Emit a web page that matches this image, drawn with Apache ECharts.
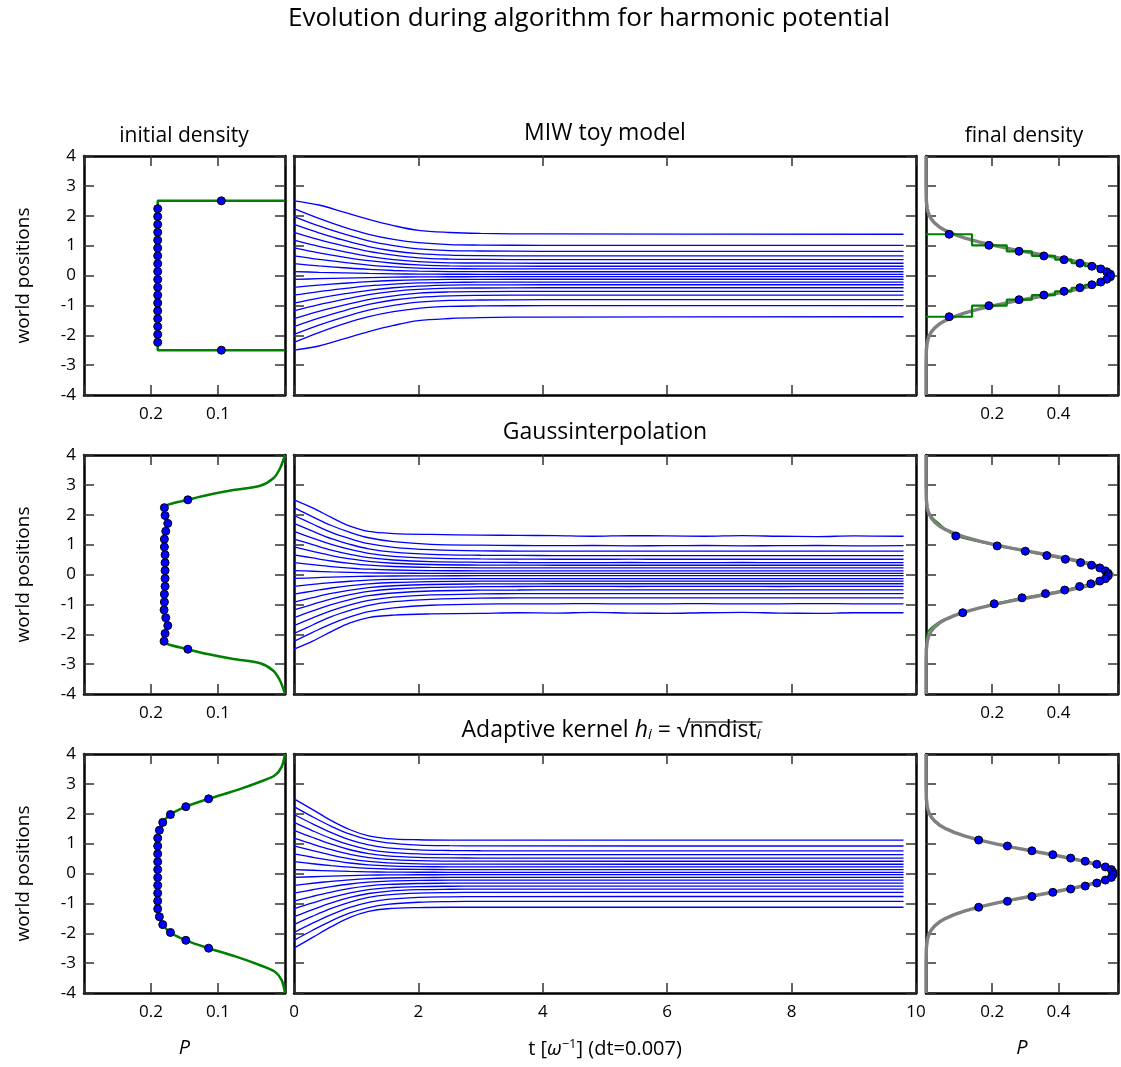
<!DOCTYPE html>
<html><head><meta charset="utf-8">
<script src="https://cdn.jsdelivr.net/npm/echarts@6/dist/echarts.min.js"></script>
<style>html,body{margin:0;padding:0;background:#fff}#c{width:1121px;height:1067px}</style>
</head><body><div id="c"></div>
<script>
const FONT = '"Open Sans", "DejaVu Sans", sans-serif';

// ---------- data ----------
const initialPositions = [2.5, 2.237, 1.974, 1.711, 1.447, 1.184, 0.921, 0.658, 0.395, 0.132, -0.132, -0.395, -0.658, -0.921, -1.184, -1.447, -1.711, -1.974, -2.237, -2.5];

// initial densities at particles (P)
const initialDensityMIW = [0.095, 0.19, 0.19, 0.19, 0.19, 0.19, 0.19, 0.19, 0.19, 0.19, 0.19, 0.19, 0.19, 0.19, 0.19, 0.19, 0.19, 0.19, 0.19, 0.095];
const initialDensityGauss = [0.145, 0.180, 0.179, 0.175, 0.178, 0.180, 0.180, 0.179, 0.179, 0.179, 0.179, 0.179, 0.180, 0.180, 0.1805, 0.178, 0.175, 0.179, 0.1805, 0.145];
const initialDensityAK = [0.114, 0.148, 0.171, 0.1825, 0.1875, 0.19, 0.19, 0.19, 0.19, 0.19, 0.19, 0.19, 0.19, 0.19, 0.19, 0.1875, 0.1825, 0.171, 0.148, 0.114];

// initial density curves, [P, y]
const initialCurveMIW = [[0, 2.5], [0.19, 2.5], [0.19, -2.5], [0, -2.5]];
const initialCurveGauss = [[0, 4.0], [0.0075, 3.55], [0.0174, 3.22], [0.037, 2.97], [0.077, 2.83], [0.112, 2.68], [0.145, 2.5], [0.18, 2.237], [0.179, 1.974], [0.175, 1.711], [0.178, 1.447], [0.18, 1.184], [0.18, 0.921], [0.179, 0.658], [0.179, 0.395], [0.179, 0.132], [0.179, -0.132], [0.179, -0.395], [0.18, -0.658], [0.18, -0.921], [0.1805, -1.184], [0.178, -1.447], [0.175, -1.711], [0.179, -1.974], [0.1805, -2.237], [0.145, -2.5], [0.112, -2.68], [0.077, -2.83], [0.037, -2.97], [0.0174, -3.22], [0.0075, -3.55], [0, -4.0]];
const initialCurveAK = [[0, 4.0], [0.005, 3.57], [0.015, 3.29], [0.037, 3.07], [0.072, 2.79], [0.114, 2.5], [0.148, 2.237], [0.171, 1.974], [0.1825, 1.711], [0.1875, 1.447], [0.19, 1.184], [0.19, 0.921], [0.19, 0.658], [0.19, 0.395], [0.19, 0.132], [0.19, -0.132], [0.19, -0.395], [0.19, -0.658], [0.19, -0.921], [0.19, -1.184], [0.1875, -1.447], [0.1825, -1.711], [0.171, -1.974], [0.148, -2.237], [0.114, -2.5], [0.072, -2.79], [0.037, -3.07], [0.015, -3.29], [0.005, -3.57], [0, -4.0]];

// trajectories
const timesMIW = [0, 0.4, 0.8, 1.2, 1.6, 2.0, 2.5, 3.0, 4.0, 9.8];
const trajectoriesMIW = [
  [2.5, 2.36, 2.12, 1.88, 1.67, 1.51, 1.44, 1.41, 1.39, 1.38],
  [2.237, 1.91, 1.62, 1.38, 1.21, 1.10, 1.035, 1.02, 1.01, 1.01],
  [1.974, 1.66, 1.39, 1.16, 1.0, 0.89, 0.83, 0.82, 0.81, 0.81],
  [1.711, 1.43, 1.18, 0.97, 0.82, 0.73, 0.68, 0.665, 0.655, 0.655],
  [1.447, 1.20, 0.99, 0.805, 0.68, 0.59, 0.55, 0.54, 0.53, 0.53],
  [1.184, 0.975, 0.80, 0.64, 0.53, 0.465, 0.425, 0.418, 0.41, 0.41],
  [0.921, 0.755, 0.615, 0.495, 0.41, 0.355, 0.32, 0.316, 0.31, 0.31],
  [0.658, 0.54, 0.44, 0.35, 0.29, 0.25, 0.229, 0.224, 0.22, 0.22],
  [0.395, 0.32, 0.26, 0.206, 0.168, 0.144, 0.13, 0.128, 0.125, 0.125],
  [0.132, 0.107, 0.086, 0.068, 0.055, 0.046, 0.042, 0.041, 0.04, 0.04],
  [-0.132, -0.107, -0.086, -0.068, -0.055, -0.046, -0.042, -0.041, -0.04, -0.04],
  [-0.395, -0.32, -0.26, -0.206, -0.168, -0.144, -0.13, -0.128, -0.125, -0.125],
  [-0.658, -0.54, -0.44, -0.35, -0.29, -0.25, -0.229, -0.224, -0.22, -0.22],
  [-0.921, -0.755, -0.615, -0.495, -0.41, -0.355, -0.32, -0.316, -0.31, -0.31],
  [-1.184, -0.975, -0.80, -0.64, -0.53, -0.465, -0.425, -0.418, -0.41, -0.41],
  [-1.447, -1.20, -0.99, -0.805, -0.68, -0.59, -0.55, -0.54, -0.53, -0.53],
  [-1.711, -1.43, -1.18, -0.97, -0.82, -0.73, -0.68, -0.665, -0.655, -0.655],
  [-1.974, -1.66, -1.39, -1.16, -1.0, -0.89, -0.83, -0.82, -0.81, -0.81],
  [-2.237, -1.91, -1.62, -1.38, -1.21, -1.10, -1.035, -1.02, -1.01, -1.01],
  [-2.5, -2.36, -2.12, -1.88, -1.67, -1.51, -1.44, -1.41, -1.39, -1.38]
];

const timesGauss = [0, 0.3, 0.6, 0.9, 1.2, 1.6, 2.2, 3.0, 3.6, 4.2, 4.8, 5.4, 6.0, 6.6, 7.2, 7.8, 8.4, 9.0, 9.8];
const trajectoriesGauss = [
  [2.5, 2.23, 1.91, 1.62, 1.44, 1.37, 1.34, 1.32, 1.31, 1.30, 1.28, 1.30, 1.29, 1.28, 1.30, 1.28, 1.27, 1.29, 1.28],
  [2.237, 1.93, 1.64, 1.41, 1.23, 1.10, 1.01, 0.98, 0.97, 0.965, 0.97, 0.96, 0.965, 0.97, 0.96, 0.965, 0.97, 0.96, 0.965],
  [1.974, 1.69, 1.41, 1.20, 1.03, 0.91, 0.83, 0.79, 0.785, 0.78, 0.785, 0.78, 0.78, 0.785, 0.78, 0.78, 0.785, 0.78, 0.78],
  [1.711, 1.45, 1.20, 1.01, 0.86, 0.75, 0.676, 0.644, 0.638, 0.635, 0.633, 0.635, 0.633, 0.633, 0.635, 0.633, 0.633, 0.635, 0.633],
  [1.447, 1.22, 1.01, 0.84, 0.71, 0.61, 0.547, 0.52, 0.514, 0.51, 0.51, 0.512, 0.51, 0.51, 0.512, 0.51, 0.51, 0.51, 0.51],
  [1.184, 1.0, 0.816, 0.674, 0.565, 0.486, 0.43, 0.408, 0.402, 0.4, 0.4, 0.401, 0.4, 0.4, 0.401, 0.4, 0.4, 0.4, 0.4],
  [0.921, 0.774, 0.634, 0.524, 0.438, 0.377, 0.334, 0.316, 0.312, 0.31, 0.31, 0.31, 0.31, 0.31, 0.31, 0.31, 0.31, 0.31, 0.31],
  [0.658, 0.553, 0.452, 0.373, 0.312, 0.268, 0.238, 0.224, 0.221, 0.22, 0.22, 0.22, 0.22, 0.22, 0.22, 0.22, 0.22, 0.22, 0.22],
  [0.395, 0.329, 0.266, 0.216, 0.178, 0.15, 0.131, 0.123, 0.121, 0.12, 0.12, 0.12, 0.12, 0.12, 0.12, 0.12, 0.12, 0.12, 0.12],
  [0.132, 0.109, 0.086, 0.069, 0.055, 0.046, 0.039, 0.036, 0.035, 0.035, 0.035, 0.035, 0.035, 0.035, 0.035, 0.035, 0.035, 0.035, 0.035],
  [-0.132, -0.11, -0.089, -0.072, -0.059, -0.05, -0.044, -0.041, -0.04, -0.04, -0.04, -0.04, -0.04, -0.04, -0.04, -0.04, -0.04, -0.04, -0.04],
  [-0.395, -0.333, -0.273, -0.226, -0.19, -0.164, -0.145, -0.138, -0.136, -0.135, -0.135, -0.135, -0.135, -0.135, -0.135, -0.135, -0.135, -0.135, -0.135],
  [-0.658, -0.553, -0.452, -0.373, -0.312, -0.268, -0.238, -0.224, -0.221, -0.22, -0.22, -0.22, -0.22, -0.22, -0.22, -0.22, -0.22, -0.22, -0.22],
  [-0.921, -0.774, -0.634, -0.524, -0.438, -0.377, -0.334, -0.316, -0.312, -0.31, -0.31, -0.31, -0.31, -0.31, -0.31, -0.31, -0.31, -0.31, -0.31],
  [-1.184, -1.0, -0.816, -0.674, -0.565, -0.486, -0.43, -0.408, -0.402, -0.4, -0.4, -0.401, -0.4, -0.4, -0.4, -0.401, -0.4, -0.4, -0.4],
  [-1.447, -1.22, -1.01, -0.84, -0.71, -0.62, -0.552, -0.524, -0.518, -0.515, -0.515, -0.517, -0.515, -0.515, -0.517, -0.515, -0.515, -0.515, -0.515],
  [-1.711, -1.45, -1.21, -1.015, -0.865, -0.758, -0.683, -0.65, -0.643, -0.64, -0.64, -0.642, -0.64, -0.64, -0.642, -0.64, -0.64, -0.64, -0.64],
  [-1.974, -1.69, -1.41, -1.20, -1.03, -0.91, -0.83, -0.79, -0.785, -0.78, -0.785, -0.78, -0.78, -0.785, -0.78, -0.78, -0.785, -0.78, -0.78],
  [-2.237, -1.935, -1.65, -1.42, -1.244, -1.12, -1.03, -0.99, -0.985, -0.98, -0.975, -0.985, -0.98, -0.975, -0.985, -0.98, -0.975, -0.98, -0.98],
  [-2.5, -2.23, -1.91, -1.62, -1.44, -1.36, -1.32, -1.30, -1.28, -1.29, -1.27, -1.29, -1.30, -1.28, -1.27, -1.29, -1.30, -1.28, -1.28]
];

const timesAK = [0, 0.3, 0.6, 0.9, 1.2, 1.5, 2.0, 2.5, 3.0, 9.8];
const trajectoriesAK = [
  [2.5, 2.14, 1.77, 1.465, 1.26, 1.17, 1.13, 1.12, 1.12, 1.12],
  [2.237, 1.895, 1.58, 1.315, 1.13, 1.025, 0.953, 0.93, 0.923, 0.92],
  [1.974, 1.66, 1.37, 1.125, 0.955, 0.857, 0.79, 0.77, 0.762, 0.76],
  [1.711, 1.43, 1.17, 0.955, 0.80, 0.716, 0.657, 0.639, 0.632, 0.63],
  [1.447, 1.205, 0.98, 0.795, 0.664, 0.59, 0.538, 0.522, 0.517, 0.515],
  [1.184, 0.983, 0.797, 0.642, 0.534, 0.472, 0.43, 0.416, 0.412, 0.41],
  [0.921, 0.762, 0.616, 0.493, 0.408, 0.359, 0.325, 0.315, 0.311, 0.31],
  [0.658, 0.544, 0.439, 0.351, 0.29, 0.255, 0.231, 0.224, 0.221, 0.22],
  [0.395, 0.326, 0.263, 0.21, 0.172, 0.151, 0.137, 0.132, 0.13, 0.13],
  [0.132, 0.108, 0.086, 0.068, 0.055, 0.047, 0.042, 0.041, 0.04, 0.04],
  [-0.132, -0.108, -0.086, -0.068, -0.055, -0.047, -0.042, -0.041, -0.04, -0.04],
  [-0.395, -0.326, -0.263, -0.21, -0.172, -0.151, -0.137, -0.132, -0.13, -0.13],
  [-0.658, -0.544, -0.439, -0.351, -0.29, -0.255, -0.231, -0.224, -0.221, -0.22],
  [-0.921, -0.765, -0.621, -0.5, -0.415, -0.367, -0.334, -0.325, -0.321, -0.32],
  [-1.184, -0.985, -0.801, -0.648, -0.54, -0.48, -0.439, -0.426, -0.422, -0.42],
  [-1.447, -1.206, -0.982, -0.8, -0.669, -0.595, -0.543, -0.527, -0.522, -0.52],
  [-1.711, -1.43, -1.17, -0.955, -0.80, -0.716, -0.657, -0.639, -0.632, -0.63],
  [-1.974, -1.663, -1.375, -1.133, -0.965, -0.866, -0.8, -0.78, -0.772, -0.77],
  [-2.237, -1.898, -1.584, -1.32, -1.14, -1.035, -0.963, -0.94, -0.933, -0.93],
  [-2.5, -2.14, -1.78, -1.47, -1.27, -1.18, -1.14, -1.13, -1.13, -1.13]
];

// final densities
const finalPositionsMIW = [1.38, 1.01, 0.81, 0.655, 0.53, 0.41, 0.31, 0.22, 0.125, 0.04, -0.04, -0.125, -0.22, -0.31, -0.41, -0.53, -0.655, -0.81, -1.01, -1.38];
const finalDensityMIW = [0.07, 0.19, 0.281, 0.356, 0.417, 0.465, 0.501, 0.528, 0.546, 0.557, 0.557, 0.546, 0.528, 0.501, 0.465, 0.417, 0.356, 0.281, 0.19, 0.07];
const stepDensityMIW = [0.139, 0.244, 0.32, 0.39, 0.44, 0.48, 0.52, 0.54, 0.555, 0.565, 0.555, 0.54, 0.52, 0.48, 0.44, 0.39, 0.32, 0.244, 0.139];

const finalPositionsGauss = [1.29, 0.957, 0.78, 0.633, 0.51, 0.398, 0.31, 0.22, 0.12, 0.03, -0.04, -0.14, -0.22, -0.31, -0.40, -0.52, -0.64, -0.78, -0.98, -1.28];
const finalDensityGauss = [0.09, 0.215, 0.30, 0.365, 0.421, 0.467, 0.50, 0.525, 0.542, 0.55, 0.55, 0.542, 0.525, 0.498, 0.464, 0.419, 0.361, 0.29, 0.206, 0.111];
const finalCurveGauss = [[0.003, 4], [0.003, 2.27], [0.008, 2.1], [0.02, 1.9], [0.04, 1.7], [0.06, 1.5], [0.09, 1.29], [0.215, 0.957], [0.30, 0.78], [0.365, 0.633], [0.421, 0.51], [0.467, 0.398], [0.50, 0.31], [0.525, 0.22], [0.542, 0.12], [0.55, 0.03], [0.55, -0.04], [0.542, -0.14], [0.525, -0.22], [0.498, -0.31], [0.464, -0.40], [0.419, -0.52], [0.361, -0.64], [0.29, -0.78], [0.206, -0.98], [0.111, -1.28], [0.055, -1.5], [0.025, -1.7], [0.01, -1.85], [0.004, -1.95], [0.003, -2.5], [0.003, -4]];

const finalPositionsAK = [1.12, 0.92, 0.76, 0.63, 0.515, 0.41, 0.31, 0.22, 0.13, 0.04, -0.04, -0.13, -0.22, -0.32, -0.42, -0.52, -0.63, -0.77, -0.93, -1.13];
const finalDensityAK = [0.159, 0.246, 0.32, 0.383, 0.437, 0.481, 0.516, 0.542, 0.56, 0.565, 0.565, 0.56, 0.542, 0.516, 0.481, 0.437, 0.383, 0.32, 0.246, 0.159];
const finalCurveAK = [[0, 4], [0.001, 2.5], [0.004, 2.2], [0.011, 2.0], [0.027, 1.75], [0.06, 1.5], [0.105, 1.3], [0.159, 1.12], [0.246, 0.92], [0.32, 0.76], [0.383, 0.63], [0.437, 0.515], [0.481, 0.41], [0.516, 0.31], [0.542, 0.22], [0.56, 0.13], [0.565, 0.04], [0.565, -0.04], [0.56, -0.13], [0.542, -0.22], [0.516, -0.32], [0.481, -0.42], [0.437, -0.52], [0.383, -0.63], [0.32, -0.77], [0.246, -0.93], [0.159, -1.13], [0.105, -1.3], [0.06, -1.5], [0.027, -1.75], [0.011, -2.0], [0.004, -2.2], [0.001, -2.5], [0, -4]];

// exact ground state density (gray)
const exactY = [4, 3, 2.5, 2.25, 2.125, 2.0, 1.875, 1.75, 1.625, 1.5, 1.375, 1.25, 1.125, 1.0, 0.875, 0.75, 0.625, 0.5, 0.375, 0.25, 0.125, 0, -0.125, -0.25, -0.375, -0.5, -0.625, -0.75, -0.875, -1.0, -1.125, -1.25, -1.375, -1.5, -1.625, -1.75, -1.875, -2.0, -2.125, -2.25, -2.5, -3, -4];
const exactP = [0, 0.0001, 0.001, 0.0036, 0.0062, 0.0103, 0.0168, 0.0264, 0.0402, 0.0595, 0.0852, 0.118, 0.159, 0.2075, 0.262, 0.321, 0.382, 0.439, 0.49, 0.530, 0.555, 0.564, 0.555, 0.530, 0.49, 0.439, 0.382, 0.321, 0.262, 0.2075, 0.159, 0.118, 0.0852, 0.0595, 0.0402, 0.0264, 0.0168, 0.0103, 0.0062, 0.0036, 0.001, 0.0001, 0];

// ---------- layout ----------
const colLeft = [84, 294, 926], colWidth = [201, 622, 196];
const rowTop = [156, 455, 754], rowHeight = 239;
const BLUE = '#0000ff', GREEN = '#008000', GRAY = '#808080';
const TICK_FS = 17;

const grid = [], xAxis = [], yAxis = [], series = [];

function near(v, t) { return Math.abs(v - t) < 1e-6; }
function baseAxis() {
  return {
    axisLine: { onZero: false, lineStyle: { color: '#000', width: 2.5 } },
    axisTick: { inside: true, length: 10, lineStyle: { color: '#333', width: 1.5 } },
    splitLine: { show: false }
  };
}

function addPanel(row, col) {
  const g = row * 3 + col;
  grid.push({ left: colLeft[col], top: rowTop[row], width: colWidth[col], height: rowHeight });
  let xr;
  if (col === 0) xr = { min: 0, max: 0.3, interval: 0.1, inverse: true, fmt: v => (near(v, 0.1) || near(v, 0.2)) ? v.toFixed(1) : '' };
  else if (col === 1) xr = { min: 0, max: 10, interval: 2, inverse: false, fmt: v => row === 2 ? String(Math.round(v)) : '' };
  else xr = { min: 0, max: 0.58, interval: 0.2, inverse: false, fmt: v => (near(v, 0.2) || near(v, 0.4)) ? v.toFixed(1) : '' };
  ['bottom', 'top'].forEach(pos => {
    const a = Object.assign(baseAxis(), {
      gridIndex: g, type: 'value', position: pos, min: xr.min, max: xr.max, interval: xr.interval, inverse: xr.inverse,
      axisLabel: { show: pos === 'bottom', formatter: xr.fmt, fontSize: TICK_FS, color: '#000', fontFamily: FONT, margin: 11 }
    });
    if (pos === 'bottom' && row === 2) {
      a.nameLocation = 'middle';
      a.nameGap = 45;
      if (col === 1) {
        a.name = 't [{it|ω}{sup|−1}] (dt=0.007)';
        a.nameTextStyle = { fontSize: 20, color: '#000', fontFamily: FONT,
          rich: { it: { fontSize: 20, fontStyle: 'italic', fontFamily: FONT }, sup: { fontSize: 13, fontFamily: FONT, verticalAlign: 'top', padding: [0, 0, 9, 0] } } };
      } else {
        a.name = 'P';
        a.nameTextStyle = { fontSize: 20, color: '#000', fontFamily: FONT, fontStyle: 'italic' };
      }
    }
    xAxis.push(a);
  });
  ['left', 'right'].forEach(pos => {
    const a = Object.assign(baseAxis(), {
      gridIndex: g, type: 'value', position: pos, min: -4, max: 4, interval: 1,
      axisLabel: { show: pos === 'left' && col === 0, fontSize: TICK_FS, color: '#000', fontFamily: FONT, margin: 8 }
    });
    if (pos === 'left' && col === 0) {
      a.name = 'world positions';
      a.nameLocation = 'middle';
      a.nameGap = 51;
      a.nameTextStyle = { fontSize: 19, color: '#000', fontFamily: FONT };
    }
    yAxis.push(a);
  });
  return g;
}

function lineSeries(g, data, color, width, z, smooth) {
  return { type: 'line', xAxisIndex: 2 * g, yAxisIndex: 2 * g, data, showSymbol: false, silent: true, z,
    smooth: smooth || false, lineStyle: { color, width }, animation: false };
}
function dotSeries(g, data) {
  return { type: 'scatter', xAxisIndex: 2 * g, yAxisIndex: 2 * g, data, symbolSize: 8, z: 10, silent: true,
    itemStyle: { color: BLUE, borderColor: '#000', borderWidth: 1, opacity: 1 }, animation: false };
}

const rows = [
  { initDens: initialDensityMIW, initCurve: initialCurveMIW, times: timesMIW, traj: trajectoriesMIW, finPos: finalPositionsMIW, finDens: finalDensityMIW, kind: 'step' },
  { initDens: initialDensityGauss, initCurve: initialCurveGauss, times: timesGauss, traj: trajectoriesGauss, finPos: finalPositionsGauss, finDens: finalDensityGauss, finCurve: finalCurveGauss },
  { initDens: initialDensityAK, initCurve: initialCurveAK, times: timesAK, traj: trajectoriesAK, finPos: finalPositionsAK, finDens: finalDensityAK, finCurve: finalCurveAK }
];

rows.forEach((r, row) => {
  let g = addPanel(row, 0);
  series.push(lineSeries(g, r.initCurve, GREEN, 2.5, 3, row === 0 ? false : 0.3));
  series.push(dotSeries(g, initialPositions.map((y, i) => [r.initDens[i], y])));
  g = addPanel(row, 1);
  r.traj.forEach(tr => {
    series.push(lineSeries(g, r.times.map((t, k) => [t, tr[k]]), BLUE, 1.3, 3, 0.35));
  });
  g = addPanel(row, 2);
  const exact = exactY.map((y, i) => [exactP[i], y]);
  if (r.kind === 'step') {
    series.push(lineSeries(g, exact, GRAY, 3.5, 3));
    const path = [[0, r.finPos[0]]];
    stepDensityMIW.forEach((h, i) => { path.push([h, r.finPos[i]], [h, r.finPos[i + 1]]); });
    path.push([0, r.finPos[r.finPos.length - 1]]);
    series.push(lineSeries(g, path, GREEN, 2.2, 4));
  } else {
    series.push(lineSeries(g, r.finCurve, GREEN, 1.6, 3, 0.3));
    series.push(lineSeries(g, exact, GRAY, 3.5, 4));
  }
  series.push(dotSeries(g, r.finPos.map((y, i) => [r.finDens[i], y])));
});

// ---------- titles ----------
const SUB_FS = 21, MID_FS = 23;
const titleStyle = { fontSize: SUB_FS, fontWeight: 'normal', color: '#000', fontFamily: FONT };
const akTop = 719, akCenter = 611;
const akRich = {
  it: { fontSize: MID_FS, fontStyle: 'italic', fontFamily: FONT, color: '#000' },
  sub: { fontSize: 15, fontStyle: 'italic', fontFamily: FONT, color: '#000', verticalAlign: 'bottom', padding: [8, 0, 0, 0] },
  n: { fontSize: MID_FS, fontFamily: FONT, color: '#000' }
};
// measure the pieces to place the radical's bar over "nndist_i"
const ctx = document.createElement('canvas').getContext('2d');
function w(text, size, italic) { ctx.font = (italic ? 'italic ' : '') + size + 'px ' + FONT; return ctx.measureText(text).width; }
const wA = w('Adaptive kernel ', MID_FS), wH = w('h', MID_FS, true), wI = w('i', 15, true), wEq = w(' = √', MID_FS), wN = w('nndist', MID_FS);
const akTotal = wA + wH + wI + wEq + wN + wI;
const barX0 = akCenter - akTotal / 2 + wA + wH + wI + wEq - 1;
const barX1 = barX0 + wN + wI + 3;

const option = {
  backgroundColor: '#fff',
  animation: false,
  title: [
    { text: 'Evolution during algorithm for harmonic potential', left: 589, top: 6, padding: 0, textAlign: 'center', textStyle: Object.assign({}, titleStyle, { fontSize: 26 }) },
    { text: 'initial density', left: 184, top: 126, padding: 0, textAlign: 'center', textStyle: titleStyle },
    { text: 'MIW toy model', left: 605, top: 122, padding: 0, textAlign: 'center', textStyle: Object.assign({}, titleStyle, { fontSize: MID_FS }) },
    { text: 'final density', left: 1024, top: 126, padding: 0, textAlign: 'center', textStyle: titleStyle },
    { text: 'Gaussinterpolation', left: 605, top: 421, padding: 0, textAlign: 'center', textStyle: Object.assign({}, titleStyle, { fontSize: MID_FS }) },
    { text: 'Adaptive kernel {it|h}{sub|i} = √{n|nndist}{sub|i}', left: akCenter, top: akTop, padding: 0, textAlign: 'center',
      textStyle: Object.assign({}, titleStyle, { fontSize: MID_FS, rich: akRich }) }
  ],
  graphic: [
    { type: 'line', silent: true, shape: { x1: barX0, y1: akTop + 3, x2: barX1, y2: akTop + 3 }, style: { stroke: '#000', lineWidth: 1.2 } }
  ],
  grid, xAxis, yAxis, series
};

const chart = echarts.init(document.getElementById('c'), null, { renderer: 'canvas' });
chart.setOption(option);
</script></body></html>
